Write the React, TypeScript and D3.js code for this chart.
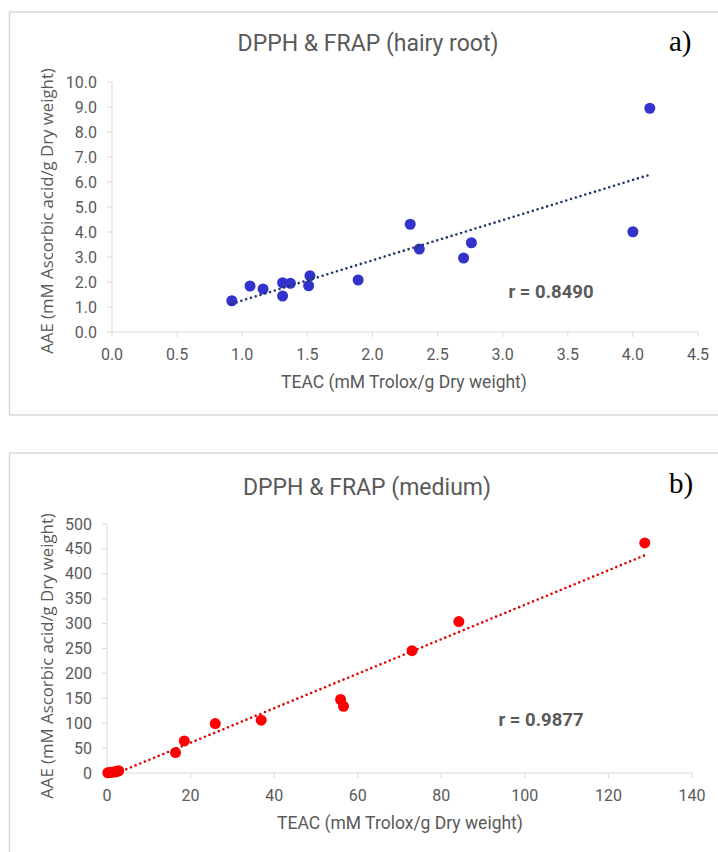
import * as d3 from 'd3'

// panel a) hairy root
const rootTeac = [0.92, 1.06, 1.16, 1.31, 1.31, 1.37, 1.52, 1.51, 1.89, 2.29, 2.36, 2.70, 2.76, 4.00, 4.13]
const rootAae = [1.25, 1.84, 1.72, 1.97, 1.44, 1.95, 2.25, 1.85, 2.08, 4.31, 3.32, 2.96, 3.57, 4.01, 8.95]
const rootXTicks = [0, 0.5, 1, 1.5, 2, 2.5, 3, 3.5, 4, 4.5]
const rootYTicks = [0, 1, 2, 3, 4, 5, 6, 7, 8, 9, 10]

// panel b) medium
const medTeac = [0.2, 0.6, 1.1, 1.6, 2.0, 2.4, 2.8, 16.4, 18.5, 25.9, 36.9, 55.9, 56.6, 73.0, 84.2, 128.7]
const medAae = [0.5, 1.0, 1.5, 2.0, 2.5, 3.5, 4.5, 41, 64.4, 99.3, 106, 147.6, 134, 245.6, 304, 462]
const medXTicks = [0, 20, 40, 60, 80, 100, 120, 140]
const medYTicks = [0, 50, 100, 150, 200, 250, 300, 350, 400, 450, 500]

const GRAY = '#595959'
const AXIS = '#d9d9d9'
const FONT = 'Roboto, sans-serif'

function fit(xs: number[], ys: number[]) {
  const mx = d3.mean(xs)!, my = d3.mean(ys)!
  let sxy = 0, sxx = 0
  xs.forEach((x, i) => { sxy += (x - mx) * (ys[i] - my); sxx += (x - mx) ** 2 })
  const b = sxy / sxx
  return { b, a: my - b * mx }
}

type PanelProps = {
  xs: number[]; ys: number[]
  xTicks: number[]; yTicks: number[]
  xRange: [number, number]; yRange: [number, number]
  fmt: (v: number) => string
  title: string; titleX: number; titleY: number
  tag: string; tagY: number
  r: string; rX: number; rY: number
  xLabelX: number; yLabelY: number
  dot: string; trend: string
}

function Panel(p: PanelProps) {
  const x = d3.scaleLinear().domain([p.xTicks[0], p.xTicks[p.xTicks.length - 1]]).range(p.xRange)
  const y = d3.scaleLinear().domain([p.yTicks[0], p.yTicks[p.yTicks.length - 1]]).range(p.yRange)
  const { a, b } = fit(p.xs, p.ys)
  const [x0, x1] = d3.extent(p.xs) as [number, number]
  const y0 = y.range()[0]
  const axX = x.range()[0]
  return (
    <g>
      <text x={p.titleX} y={p.titleY} textAnchor="middle" dominantBaseline="central"
        fontFamily={FONT} fontSize={23} fill={GRAY}>{p.title}</text>
      <text x={669} y={p.tagY} fontFamily="'Liberation Serif', serif" fontSize={29} fill="#000">{p.tag}</text>

      <line x1={axX} x2={axX} y1={y.range()[1]} y2={y0} stroke={AXIS} />
      <line x1={axX} x2={x.range()[1]} y1={y0} y2={y0} stroke={AXIS} />
      {p.yTicks.map(t => (
        <g key={'y' + t}>
          <line x1={axX - 5} x2={axX} y1={y(t)} y2={y(t)} stroke={AXIS} />
          <text x={axX - 15} y={y(t)} textAnchor="end" dominantBaseline="central"
            fontFamily={FONT} fontSize={16} fill={GRAY}>{p.fmt(t)}</text>
        </g>
      ))}
      {p.xTicks.map(t => (
        <g key={'x' + t}>
          <line x1={x(t)} x2={x(t)} y1={y0} y2={y0 + 5} stroke={AXIS} />
          <text x={x(t)} y={y0 + 22} textAnchor="middle" dominantBaseline="central"
            fontFamily={FONT} fontSize={16} fill={GRAY}>{p.fmt(t)}</text>
        </g>
      ))}

      {p.xs.map((v, i) => (
        <circle key={i} cx={x(v)} cy={y(p.ys[i])} r={5.5} fill={p.dot} />
      ))}
      <line x1={x(x0)} y1={y(a + b * x0)} x2={x(x1)} y2={y(a + b * x1)}
        stroke={p.trend} strokeWidth={2.6} strokeLinecap="round" strokeDasharray="0 5" />

      <text x={p.rX} y={p.rY} textAnchor="middle" dominantBaseline="central"
        fontFamily={FONT} fontSize={18.5} fontWeight="bold" fill={GRAY}>{p.r}</text>

      <text x={p.xLabelX} y={y0 + 50} textAnchor="middle" dominantBaseline="central"
        fontFamily={FONT} fontSize={17.5} fill={GRAY}>TEAC (mM Trolox/g Dry weight)</text>
      <text transform={`translate(46,${p.yLabelY}) rotate(-90)`} textAnchor="middle" dominantBaseline="central"
        fontFamily="'Open Sans', sans-serif" fontSize={16.8} fill={GRAY}>AAE (mM Ascorbic acid/g Dry weight)</text>
    </g>
  )
}

export default function App() {
  return (
    <svg width={718} height={852} style={{ position: 'absolute', left: 0, top: 0, background: '#fff' }}>
      <rect x={9.5} y={12} width={720} height={403} fill="#fff" stroke={AXIS} strokeWidth={1.5} />
      <rect x={9.5} y={453} width={720} height={420} fill="#fff" stroke={AXIS} strokeWidth={1.5} />
      <Panel xs={rootTeac} ys={rootAae} xTicks={rootXTicks} yTicks={rootYTicks}
        xRange={[112, 698]} yRange={[332, 82]} fmt={v => v.toFixed(1)}
        title="DPPH & FRAP (hairy root)" titleX={368} titleY={43}
        tag="a)" tagY={51} r="r = 0.8490" rX={551} rY={292}
        xLabelX={404} yLabelY={211} dot="#3333cc" trend="#1f3864" />
      <Panel xs={medTeac} ys={medAae} xTicks={medXTicks} yTicks={medYTicks}
        xRange={[107, 692]} yRange={[773, 524]} fmt={v => String(v)}
        title="DPPH & FRAP (medium)" titleX={367} titleY={487}
        tag="b)" tagY={493} r="r = 0.9877" rX={541} rY={720}
        xLabelX={400} yLabelY={656} dot="#ff0000" trend="#e00000" />
    </svg>
  )
}
